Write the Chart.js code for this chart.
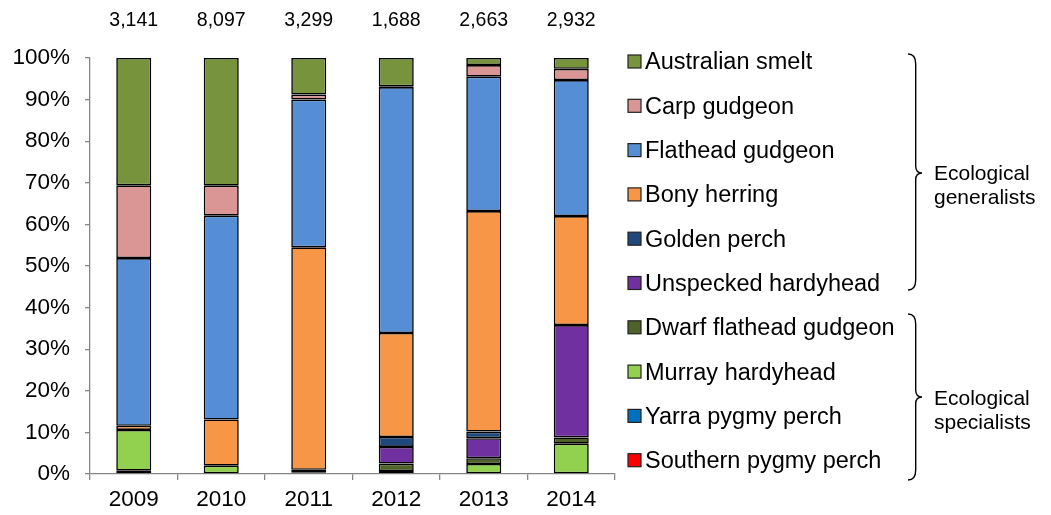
<!DOCTYPE html>
<html>
<head>
<meta charset="utf-8">
<script src="https://cdn.jsdelivr.net/npm/chart.js@4/dist/chart.umd.min.js"></script>
<style>
    html, body { margin: 0; padding: 0; background: #fff; }
    #wrap { width: 1051px; height: 515px; }
</style>
</head>
<body>
<div id="wrap"><canvas id="chart" width="1051" height="515"></canvas></div>
<script>
// Data (percent of catch per year)
const years = ['2009', '2010', '2011', '2012', '2013', '2014'];
const totals = ['3,141', '8,097', '3,299', '1,688', '2,663', '2,932'];

const southernPygmyPerch = [0.8, 0, 0, 0, 0, 0];
const yarraPygmyPerch = [0, 0, 0, 0, 0, 0];
const murrayHardyhead = [9.8, 2.0, 0, 0.7, 2.4, 7.3];
const dwarfFlatheadGudgeon = [0, 0, 0.4, 1.8, 1.4, 1.5];
const unspeckedHardyhead = [0, 0, 0, 4.0, 4.8, 27.0];
const goldenPerch = [0, 0, 0.6, 2.4, 1.6, 0];
const bonyHerring = [1.0, 11.1, 53.5, 25.0, 53.0, 26.2];
const flatheadGudgeon = [40.3, 49.0, 35.5, 59.1, 32.3, 32.7];
const carpGudgeon = [17.5, 7.2, 1.2, 0.2, 2.8, 2.7];
const australianSmelt = [30.6, 30.7, 8.8, 6.8, 1.7, 2.6];

const yTicks = [0, 10, 20, 30, 40, 50, 60, 70, 80, 90, 100];

const FONT = "'Liberation Sans', Arial, sans-serif";
const AXIS = '#868686';

// bottom to top
const series = [
    { label: 'Southern pygmy perch', data: southernPygmyPerch, color: '#FF0000' },
    { label: 'Yarra pygmy perch', data: yarraPygmyPerch, color: '#0070C0' },
    { label: 'Murray hardyhead', data: murrayHardyhead, color: '#92D050' },
    { label: 'Dwarf flathead gudgeon', data: dwarfFlatheadGudgeon, color: '#4F6228' },
    { label: 'Unspecked hardyhead', data: unspeckedHardyhead, color: '#7030A0' },
    { label: 'Golden perch', data: goldenPerch, color: '#1F497D' },
    { label: 'Bony herring', data: bonyHerring, color: '#F79646' },
    { label: 'Flathead gudgeon', data: flatheadGudgeon, color: '#558ED5' },
    { label: 'Carp gudgeon', data: carpGudgeon, color: '#D99694' },
    { label: 'Australian smelt', data: australianSmelt, color: '#77933C' }
];

function drawBrace(ctx, x, y1, y2, yTip, w) {
    const m = x + w * 0.55;
    ctx.beginPath();
    ctx.moveTo(x, y1);
    ctx.quadraticCurveTo(m, y1, m, y1 + 10);
    ctx.lineTo(m, yTip - 7);
    ctx.quadraticCurveTo(m, yTip, x + w, yTip);
    ctx.quadraticCurveTo(m, yTip, m, yTip + 7);
    ctx.lineTo(m, y2 - 10);
    ctx.quadraticCurveTo(m, y2, x, y2);
    ctx.stroke();
}

const extras = {
    id: 'extras',
    afterDraw(chart) {
        const ctx = chart.ctx;
        const xs = chart.scales.x;
        ctx.save();
        ctx.fillStyle = '#000';
        ctx.textAlign = 'center';
        ctx.textBaseline = 'middle';
        ctx.font = '19.5px ' + FONT;
        totals.forEach((t, i) => {
            ctx.fillText(t, xs.getPixelForValue(i), 21);
        });

        // legend, top to bottom
        ctx.textAlign = 'left';
        ctx.font = '23.5px ' + FONT;
        const items = series.slice().reverse();
        items.forEach((s, i) => {
            const y = 62 + i * 44.3;
            ctx.fillStyle = s.color;
            ctx.fillRect(628, y - 7, 13, 13);
            ctx.strokeStyle = '#222';
            ctx.lineWidth = 1.2;
            ctx.strokeRect(628, y - 7, 13, 13);
            ctx.fillStyle = '#000';
            ctx.fillText(s.label, 645, y + 1);
        });

        // braces and group labels
        ctx.strokeStyle = '#000';
        ctx.lineWidth = 1.4;
        drawBrace(ctx, 908, 54, 290, 173, 14);
        drawBrace(ctx, 908, 314, 480, 397, 14);
        ctx.font = '21px ' + FONT;
        ctx.fillText('Ecological', 934, 174);
        ctx.fillText('generalists', 934, 198);
        ctx.fillText('Ecological', 934, 399);
        ctx.fillText('specialists', 934, 423);
        ctx.restore();
    }
};

new Chart(document.getElementById('chart'), {
    type: 'bar',
    data: {
        labels: years,
        datasets: series.map(s => ({
            label: s.label,
            data: s.data,
            backgroundColor: s.color,
            borderColor: '#000',
            borderWidth: 1.6,
            borderSkipped: false,
            barPercentage: 0.8,
            categoryPercentage: 0.5
        }))
    },
    options: {
        responsive: false,
        animation: false,
        layout: { padding: { left: 0, right: 436, top: 58, bottom: 0 } },
        plugins: {
            legend: { display: false },
            tooltip: { enabled: false }
        },
        scales: {
            x: {
                stacked: true,
                afterFit(scale) { scale.height = 41; },
                grid: { drawOnChartArea: false, drawTicks: true, tickLength: 6, color: AXIS, lineWidth: 1.3 },
                border: { color: AXIS, width: 1.3 },
                ticks: { color: '#000', font: { family: FONT, size: 22.5 }, padding: 6 }
            },
            y: {
                stacked: true,
                min: 0,
                max: 100,
                afterFit(scale) { scale.width = 90; },
                afterBuildTicks(scale) { scale.ticks = yTicks.map(v => ({ value: v })); },
                grid: { drawOnChartArea: false, drawTicks: true, tickLength: 5, color: AXIS, lineWidth: 1.3 },
                border: { color: AXIS, width: 1.3 },
                ticks: {
                    color: '#000',
                    font: { family: FONT, size: 22.5 },
                    padding: 15,
                    callback: v => v + '%'
                }
            }
        }
    },
    plugins: [extras]
});
</script>
</body>
</html>
